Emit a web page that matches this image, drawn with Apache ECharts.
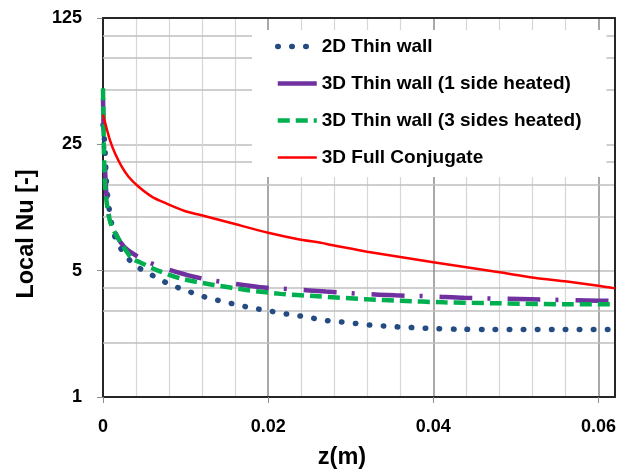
<!DOCTYPE html>
<html>
<head>
<meta charset="utf-8">
<script src="https://cdn.jsdelivr.net/npm/echarts@6/dist/echarts.min.js"></script>
<style>
  html, body { margin: 0; padding: 0; background: #ffffff; }
  #chart { width: 632px; height: 470px; }
</style>
</head>
<body>
<div id="chart"></div>
<script>
// Local Nusselt number along the channel (z in metres), four wall models.
const seriesNames = [
  '2D Thin wall',
  '3D Thin wall (1 side heated)',
  '3D Thin wall (3 sides heated)',
  '3D Full Conjugate'
];

const zThin2D = [0, 0.00016, 0.00024, 0.00036, 0.00045, 0.00064, 0.00085, 0.00115, 0.00166, 0.0025,
  0.00367, 0.005, 0.0064, 0.0079, 0.0094, 0.011, 0.0125, 0.0141, 0.0157, 0.0173,
  0.0189, 0.0205, 0.0222, 0.0238, 0.0254, 0.027, 0.0286, 0.0303, 0.0319, 0.0336,
  0.0352, 0.0368, 0.0385, 0.0401, 0.0434, 0.047, 0.055, 0.062];
const nuThin2D = [32, 27, 23.5, 17.4, 14.6, 12.0, 10.2, 8.6, 7.25, 6.3,
  5.45, 4.98, 4.6, 4.24, 3.98, 3.75, 3.56, 3.41, 3.28, 3.16,
  3.06, 2.97, 2.88, 2.81, 2.73, 2.65, 2.61, 2.56, 2.51, 2.48,
  2.45, 2.43, 2.41, 2.39, 2.37, 2.36, 2.36, 2.36];

const zOneSide = [0, 0.00005, 0.00012, 0.00024, 0.00042, 0.00067, 0.00097, 0.0013, 0.0021, 0.003,
  0.0049, 0.0071, 0.011, 0.015, 0.019, 0.023, 0.027, 0.0314, 0.0354, 0.0396,
  0.0437, 0.0518, 0.060, 0.062];
const nuOneSide = [45, 34, 25, 18.5, 13.0, 10.3, 9.3, 8.5, 7.2, 6.5,
  5.75, 5.22, 4.63, 4.29, 4.05, 3.94, 3.83, 3.72, 3.65, 3.61,
  3.54, 3.47, 3.41, 3.40];

const zThreeSides = [0, 0.00005, 0.00012, 0.00024, 0.00045, 0.00085, 0.00145, 0.00246, 0.0035, 0.0045,
  0.0065, 0.0093, 0.0134, 0.0174, 0.0215, 0.0255, 0.032, 0.036, 0.0413, 0.0481,
  0.0562, 0.062];
const nuThreeSides = [51, 35, 22, 15.0, 11.9, 9.4, 8.1, 6.8, 5.85, 5.55,
  5.04, 4.54, 4.17, 3.91, 3.72, 3.62, 3.47, 3.41, 3.34, 3.30,
  3.26, 3.26];

const zConjugate = [0, 0.00045, 0.00085, 0.00145, 0.00227, 0.00307, 0.00428, 0.0059, 0.0077, 0.0099,
  0.0124, 0.0154, 0.0200, 0.0235, 0.0266, 0.0275, 0.032, 0.040, 0.048, 0.0522,
  0.0562, 0.0602, 0.062];
const nuConjugate = [36.5, 30.5, 26.3, 22.3, 18.8, 16.6, 14.6, 12.85, 11.75, 10.7,
  10.0, 9.2, 8.1, 7.49, 7.1, 6.95, 6.37, 5.56, 4.9, 4.57,
  4.35, 4.11, 3.99];

const xTicks = [0, 0.02, 0.04, 0.06];
const yTicks = [1, 5, 25, 125];
const yMinorGrid = [2, 3, 4, 10, 15, 20, 50, 75, 100];
const zMax = 0.062;

const FONT = '"Liberation Sans", Arial, sans-serif';

// Stroke styles shared by each curve and its legend sample
const styles = [
  { color: '#244b82', width: 5.5, type: [0.5, 13.5], cap: 'round' },
  { color: '#7030a0', width: 4.5, type: [33, 15, 3, 17], cap: 'butt' },
  { color: '#00b050', width: 4.5, type: [12, 6], cap: 'butt' },
  { color: '#ff0000', width: 2.5, type: 'solid', cap: 'butt' }
];

function pairs(xs, ys) {
  return xs.map(function (x, i) { return [x, ys[i]]; });
}

const baseLine = {
  type: 'line',
  symbol: 'none',
  showSymbol: false,
  smooth: 0.3,
  xAxisIndex: 0,
  yAxisIndex: 0,
  emphasis: { disabled: true },
  animation: false
};

const chart = echarts.init(document.getElementById('chart'), null, { renderer: 'canvas' });

chart.setOption({
  animation: false,
  backgroundColor: '#ffffff',
  grid: { left: 103, right: 17, top: 18, bottom: 73, containLabel: false },
  legend: {
    data: seriesNames.map(function (name, i) {
      return {
        name: name,
        lineStyle: {
          color: styles[i].color,
          width: styles[i].width,
          type: i === 1 ? 'solid' : styles[i].type,
          cap: styles[i].cap
        }
      };
    }),
    orient: 'vertical',
    left: 252,
    top: 30,
    padding: [7, 25, 10, 23],
    itemGap: 18,
    itemWidth: 39,
    itemHeight: 14,
    backgroundColor: '#ffffff',
    selectedMode: false,
    itemStyle: { opacity: 0 },
    textStyle: { fontFamily: FONT, fontWeight: 'bold', fontSize: 19, color: '#000000' }
  },
  xAxis: [
    {
      type: 'value',
      min: xTicks[0],
      max: zMax,
      interval: xTicks[1] - xTicks[0],
      axisLine: { show: true, onZero: false, lineStyle: { color: '#262626', width: 2 } },
      axisTick: { show: true, length: 6, lineStyle: { color: '#8c8c8c', width: 1 } },
      axisLabel: {
        margin: 21,
        showMaxLabel: false,
        fontFamily: FONT, fontWeight: 'bold', fontSize: 18, color: '#000000',
        formatter: function (v) { return v === 0 ? '0' : v.toFixed(2); }
      },
      splitLine: { show: true, lineStyle: { color: '#8c8c8c', width: 1.5 } },
      minorTick: { show: false, splitNumber: 5 },
      minorSplitLine: { show: true, lineStyle: { color: '#d6d6d6', width: 1.2 } }
    },
    {
      type: 'value',
      position: 'top',
      min: xTicks[0],
      max: zMax,
      z: 3,
      axisLine: { show: true, onZero: false, lineStyle: { color: '#262626', width: 2 } },
      axisTick: { show: false },
      axisLabel: { show: false },
      splitLine: { show: false }
    }
  ],
  yAxis: [
    {
      type: 'log',
      logBase: 5,
      min: yTicks[0],
      max: yTicks[yTicks.length - 1],
      axisLine: { show: true, onZero: false, lineStyle: { color: '#262626', width: 2 } },
      axisTick: { show: true, length: 6, lineStyle: { color: '#8c8c8c', width: 1 } },
      axisLabel: {
        margin: 21,
        fontFamily: FONT, fontWeight: 'bold', fontSize: 18, color: '#000000',
        formatter: function (v) { return String(Math.round(v)); }
      },
      splitLine: { show: true, lineStyle: { color: '#bfbfbf', width: 1.5 } }
    },
    {
      type: 'log',
      logBase: 5,
      position: 'right',
      min: yTicks[0],
      max: yTicks[yTicks.length - 1],
      z: 3,
      axisLine: { show: true, onZero: false, lineStyle: { color: '#262626', width: 2 } },
      axisTick: { show: false },
      axisLabel: { show: false },
      splitLine: { show: false }
    }
  ],
  graphic: [
    {
      type: 'text',
      x: 27, y: 234,
      rotation: Math.PI / 2,
      silent: true,
      style: {
        text: 'Local Nu [-]',
        fontFamily: FONT, fontWeight: 'bold', fontSize: 23.5, fill: '#000000',
        align: 'center', verticalAlign: 'middle'
      }
    },
    {
      type: 'text',
      x: 342, y: 458,
      silent: true,
      style: {
        text: 'z(m)',
        fontFamily: FONT, fontWeight: 'bold', fontSize: 23.5, fill: '#000000',
        align: 'center', verticalAlign: 'middle'
      }
    }
  ],
  series: [
    Object.assign({}, baseLine, {
      name: seriesNames[0],
      z: 2,
      data: pairs(zThin2D, nuThin2D),
      itemStyle: { color: styles[0].color },
      lineStyle: styles[0],
      markLine: {
        silent: true,
        symbol: 'none',
        z: 1,
        animation: false,
        label: { show: false },
        emphasis: { disabled: true },
        lineStyle: { color: '#bfbfbf', width: 1.5, type: 'solid' },
        data: yMinorGrid.map(function (v) { return { yAxis: v }; })
      }
    }),
    Object.assign({}, baseLine, {
      name: seriesNames[1],
      z: 3,
      data: pairs(zOneSide, nuOneSide),
      itemStyle: { color: styles[1].color },
      lineStyle: styles[1]
    }),
    Object.assign({}, baseLine, {
      name: seriesNames[2],
      z: 4,
      data: pairs(zThreeSides, nuThreeSides),
      itemStyle: { color: styles[2].color },
      lineStyle: styles[2]
    }),
    Object.assign({}, baseLine, {
      name: seriesNames[3],
      z: 5,
      data: pairs(zConjugate, nuConjugate),
      itemStyle: { color: styles[3].color },
      lineStyle: styles[3]
    })
  ]
});
</script>
</body>
</html>
